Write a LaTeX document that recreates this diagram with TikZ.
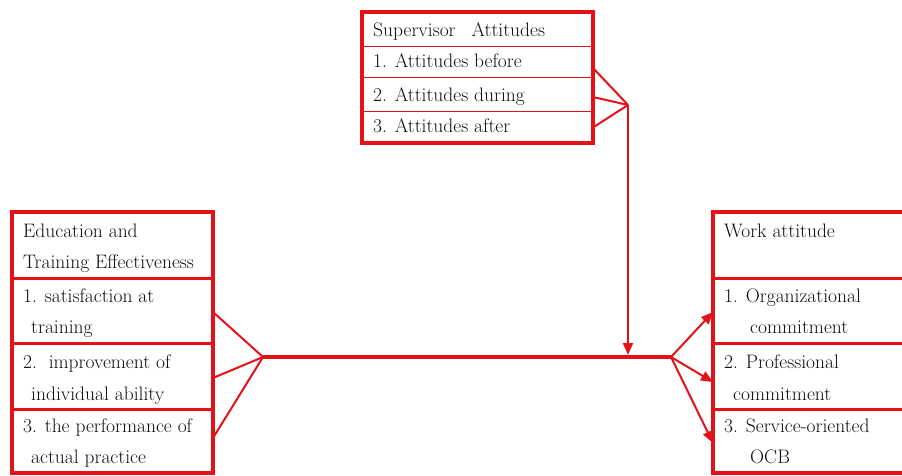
\documentclass[tikz,border=0pt]{standalone}
\usetikzlibrary{arrows.meta,calc}
\definecolor{cred}{RGB}{228,18,24}
\definecolor{ctxt}{RGB}{15,15,15}
\begin{document}
\begin{tikzpicture}[x=1pt,y=-1pt,
  rowbox/.style={draw=cred,line width=#1,inner sep=0pt,outer sep=0pt,anchor=north west},
  frame/.style={draw=cred,line width=3.3pt},
  txt/.style={anchor=base west,inner sep=0pt,text=ctxt,font=\fontsize{19.5}{22}\selectfont},
  conn/.style={draw=cred,line width=2pt},
  mainline/.style={draw=cred,line width=3.5pt},
  arr/.style={-{Triangle[length=12pt,width=10pt]}}]
\useasboundingbox (0,0) rectangle (902,476);
\clip (0,0) rectangle (902,476);
% ---------- top box: Supervisor Attitudes
\node[rowbox=1pt,minimum width=231pt,minimum height=35pt] (sah) at (362,12) {};
\node[rowbox=1pt,minimum width=231pt,minimum height=31pt] (sa1) at (362,47) {};
\node[rowbox=1pt,minimum width=231pt,minimum height=34pt] (sa2) at (362,78) {};
\node[rowbox=1pt,minimum width=231pt,minimum height=31pt] (sa3) at (362,112) {};
\draw[frame] (sah.north west) rectangle (sa3.south east);
\node[txt] (tsah) at (373,37) {Supervisor\hspace{16pt}Attitudes};
\node[txt] (tsa1) at (373,68) {1. Attitudes before};
\node[txt] (tsa2) at (373,102) {2. Attitudes during};
\node[txt] (tsa3) at (373,133) {3. Attitudes after};
% ---------- left box: Education and Training Effectiveness
\node[rowbox=3pt,minimum width=201pt,minimum height=66pt] (eth) at (12,212) {};
\node[rowbox=3pt,minimum width=201pt,minimum height=65pt] (et1) at (12,278) {};
\node[rowbox=3pt,minimum width=201pt,minimum height=66pt] (et2) at (12,343) {};
\node[rowbox=3pt,minimum width=201pt,minimum height=64pt] (et3) at (12,409) {};
\draw[frame] (eth.north west) rectangle (et3.south east);
\node[txt] (teh1) at (23,237) {Education and};
\node[txt] (teh2) at (23,268) {Training Effectiveness};
\node[txt] (te11) at (23,302) {1. satisfaction at};
\node[txt] (te12) at (31,333) {training};
\node[txt] (te21) at (23,368) {2.\ \ improvement of};
\node[txt] (te22) at (31,400) {individual ability};
\node[txt] (te31) at (23,432) {3. the performance of};
\node[txt] (te32) at (31,463) {actual practice};
% ---------- right box: Work attitude
\node[rowbox=3pt,minimum width=220pt,minimum height=66pt] (wah) at (713,212) {};
\node[rowbox=3pt,minimum width=220pt,minimum height=65pt] (wa1) at (713,278) {};
\node[rowbox=3pt,minimum width=220pt,minimum height=66pt] (wa2) at (713,343) {};
\node[rowbox=3pt,minimum width=220pt,minimum height=64pt] (wa3) at (713,409) {};
\draw[frame] (wah.north west) rectangle (wa3.south east);
\node[txt] (twah) at (724,237) {Work attitude};
\node[txt] (tw11) at (724,302) {1. Organizational};
\node[txt] (tw12) at (750,333) {commitment};
\node[txt] (tw21) at (724,368) {2. Professional};
\node[txt] (tw22) at (733,400) {commitment};
\node[txt] (tw31) at (724,432) {3. Service-oriented};
\node[txt] (tw32) at (750,463) {OCB};
% ---------- connectors
\coordinate (sc) at (628,105);
\coordinate (lc) at (263,357);
\coordinate (rc) at (671,357);
\coordinate (drop) at (628,355);
\draw[conn] ([yshift=-5.5pt]sa1.east) -- (sc);
\draw[conn] ([yshift=-2pt]sa2.east) -- (sc);
\draw[conn] (sa3.east) -- (sc);
\draw[conn,arr] (sc) -- (drop);
\draw[conn] ([yshift=-1.5pt]et1.east) -- (lc);
\draw[conn] ([yshift=-2pt]et2.east) -- (lc);
\draw[conn] ([yshift=3pt]et3.east) -- (lc);
\draw[mainline] (lc) -- (rc);
\draw[conn,arr] (rc) -- ([yshift=-1.5pt]wa1.west);
\draw[conn,arr] (rc) -- ([yshift=-6pt]wa2.west);
\draw[conn,arr] (rc) -- ([yshift=-2pt]wa3.west);
\end{tikzpicture}
\end{document}
